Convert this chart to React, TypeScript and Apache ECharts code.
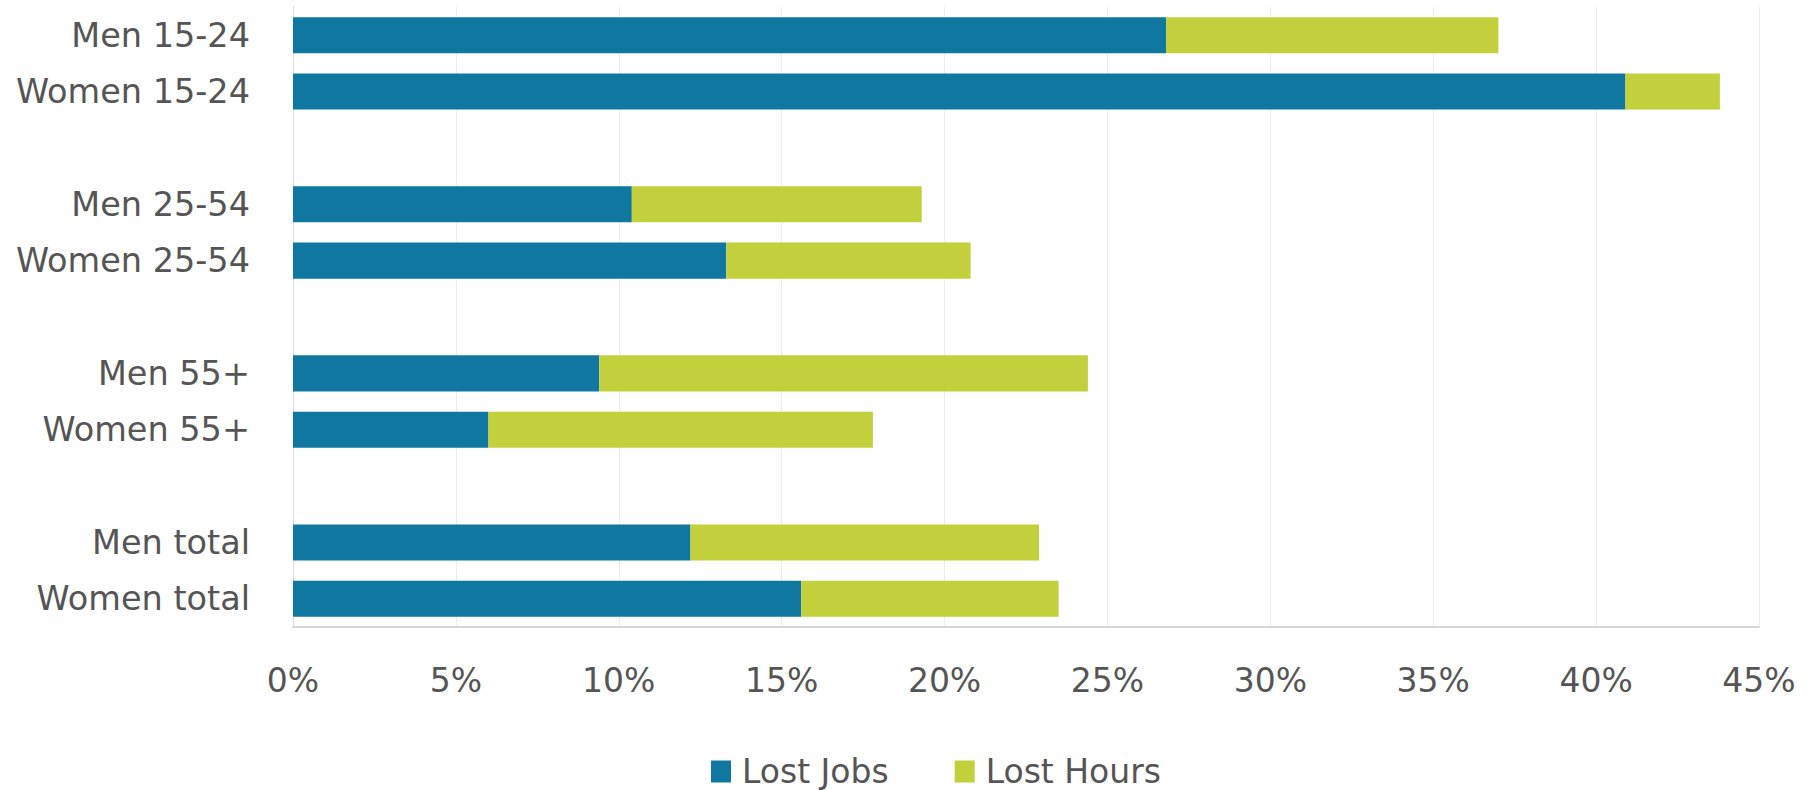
import React, { useEffect, useRef } from "react";
import * as echarts from "echarts";

const categories = [
  "Men 15-24",
  "Women 15-24",
  "",
  "Men 25-54",
  "Women 25-54",
  " ",
  "Men 55+",
  "Women 55+",
  "  ",
  "Men total",
  "Women total",
];

const lostJobs: (number | string)[] = [26.8, 40.9, "-", 10.4, 13.3, "-", 9.4, 6.0, "-", 12.2, 15.6];
const lostHours: (number | string)[] = [10.2, 2.9, "-", 8.9, 7.5, "-", 15.0, 11.8, "-", 10.7, 7.9];

const seriesNames = ["Lost Jobs", "Lost Hours"];
const colors = ["#0f77a0", "#c2d03c"];

const FONT = "DejaVu Sans";
const TEXT_COLOR = "#555555";

export default function App() {
  const ref = useRef<HTMLDivElement>(null);

  useEffect(() => {
    document.body.style.margin = "0";
    const chart = echarts.init(ref.current!, null, { renderer: "svg" });
    chart.setOption({
      animation: false,
      backgroundColor: "#ffffff",
      grid: { left: 293, right: 53, top: 7, bottom: 163, containLabel: false },
      legend: {
        data: seriesNames,
        left: 706,
        top: 750,
        itemWidth: 20,
        itemHeight: 22,
        itemGap: 66,
        icon: "rect",
        textStyle: { fontFamily: FONT, fontSize: 33, color: TEXT_COLOR, padding: [0, 0, 0, 6] },
      },
      xAxis: {
        type: "value",
        min: 0,
        max: 45,
        interval: 5,
        axisLabel: {
          formatter: "{value}%",
          fontFamily: FONT,
          fontSize: 33,
          color: TEXT_COLOR,
          margin: 37,
        },
        axisLine: { show: true, lineStyle: { color: "#d6d6d6", width: 2 } },
        axisTick: { show: false },
        splitLine: { show: true, lineStyle: { color: "#ececec", width: 1 } },
      },
      yAxis: {
        type: "category",
        data: categories,
        inverse: true,
        axisLabel: {
          fontFamily: FONT,
          fontSize: 33.5,
          color: TEXT_COLOR,
          margin: 43,
        },
        axisLine: { show: true, lineStyle: { color: "#dcdcdc", width: 1 } },
        axisTick: { show: false },
        splitLine: { show: false },
      },
      series: [
        {
          name: seriesNames[0],
          type: "bar",
          stack: "total",
          data: lostJobs,
          barCategoryGap: "36%",
          itemStyle: { color: colors[0] },
        },
        {
          name: seriesNames[1],
          type: "bar",
          stack: "total",
          data: lostHours,
          barCategoryGap: "36%",
          itemStyle: { color: colors[1] },
        },
      ],
    });
    return () => chart.dispose();
  }, []);

  return (
    <div
      ref={ref}
      style={{ position: "absolute", left: 0, top: 0, width: 1812, height: 790 }}
    />
  );
}
